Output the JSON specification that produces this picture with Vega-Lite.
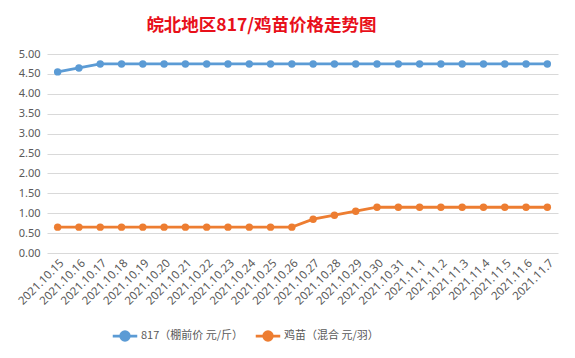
{
  "$schema": "https://vega.github.io/schema/vega-lite/v6.json",
  "width": 511,
  "height": 199,
  "autosize": {"type": "none"},
  "padding": {"left": 47, "top": 54, "right": 17, "bottom": 105},
  "background": "white",
  "title": {
    "text": "皖北地区817/鸡苗价格走势图",
    "color": "#e8101a",
    "fontSize": 17.5,
    "fontWeight": "bold",
    "font": "Noto Sans CJK SC",
    "anchor": "middle",
    "dx": -41,
    "offset": 14
  },
  "data": {
    "values": [
      {"date": "2021.10.15", "s": "817（棚前价 元/斤）", "v": 4.55},
      {"date": "2021.10.16", "s": "817（棚前价 元/斤）", "v": 4.65},
      {"date": "2021.10.17", "s": "817（棚前价 元/斤）", "v": 4.75},
      {"date": "2021.10.18", "s": "817（棚前价 元/斤）", "v": 4.75},
      {"date": "2021.10.19", "s": "817（棚前价 元/斤）", "v": 4.75},
      {"date": "2021.10.20", "s": "817（棚前价 元/斤）", "v": 4.75},
      {"date": "2021.10.21", "s": "817（棚前价 元/斤）", "v": 4.75},
      {"date": "2021.10.22", "s": "817（棚前价 元/斤）", "v": 4.75},
      {"date": "2021.10.23", "s": "817（棚前价 元/斤）", "v": 4.75},
      {"date": "2021.10.24", "s": "817（棚前价 元/斤）", "v": 4.75},
      {"date": "2021.10.25", "s": "817（棚前价 元/斤）", "v": 4.75},
      {"date": "2021.10.26", "s": "817（棚前价 元/斤）", "v": 4.75},
      {"date": "2021.10.27", "s": "817（棚前价 元/斤）", "v": 4.75},
      {"date": "2021.10.28", "s": "817（棚前价 元/斤）", "v": 4.75},
      {"date": "2021.10.29", "s": "817（棚前价 元/斤）", "v": 4.75},
      {"date": "2021.10.30", "s": "817（棚前价 元/斤）", "v": 4.75},
      {"date": "2021.10.31", "s": "817（棚前价 元/斤）", "v": 4.75},
      {"date": "2021.11.1", "s": "817（棚前价 元/斤）", "v": 4.75},
      {"date": "2021.11.2", "s": "817（棚前价 元/斤）", "v": 4.75},
      {"date": "2021.11.3", "s": "817（棚前价 元/斤）", "v": 4.75},
      {"date": "2021.11.4", "s": "817（棚前价 元/斤）", "v": 4.75},
      {"date": "2021.11.5", "s": "817（棚前价 元/斤）", "v": 4.75},
      {"date": "2021.11.6", "s": "817（棚前价 元/斤）", "v": 4.75},
      {"date": "2021.11.7", "s": "817（棚前价 元/斤）", "v": 4.75},
      {"date": "2021.10.15", "s": "鸡苗（混合 元/羽）", "v": 0.65},
      {"date": "2021.10.16", "s": "鸡苗（混合 元/羽）", "v": 0.65},
      {"date": "2021.10.17", "s": "鸡苗（混合 元/羽）", "v": 0.65},
      {"date": "2021.10.18", "s": "鸡苗（混合 元/羽）", "v": 0.65},
      {"date": "2021.10.19", "s": "鸡苗（混合 元/羽）", "v": 0.65},
      {"date": "2021.10.20", "s": "鸡苗（混合 元/羽）", "v": 0.65},
      {"date": "2021.10.21", "s": "鸡苗（混合 元/羽）", "v": 0.65},
      {"date": "2021.10.22", "s": "鸡苗（混合 元/羽）", "v": 0.65},
      {"date": "2021.10.23", "s": "鸡苗（混合 元/羽）", "v": 0.65},
      {"date": "2021.10.24", "s": "鸡苗（混合 元/羽）", "v": 0.65},
      {"date": "2021.10.25", "s": "鸡苗（混合 元/羽）", "v": 0.65},
      {"date": "2021.10.26", "s": "鸡苗（混合 元/羽）", "v": 0.65},
      {"date": "2021.10.27", "s": "鸡苗（混合 元/羽）", "v": 0.85},
      {"date": "2021.10.28", "s": "鸡苗（混合 元/羽）", "v": 0.95},
      {"date": "2021.10.29", "s": "鸡苗（混合 元/羽）", "v": 1.05},
      {"date": "2021.10.30", "s": "鸡苗（混合 元/羽）", "v": 1.15},
      {"date": "2021.10.31", "s": "鸡苗（混合 元/羽）", "v": 1.15},
      {"date": "2021.11.1", "s": "鸡苗（混合 元/羽）", "v": 1.15},
      {"date": "2021.11.2", "s": "鸡苗（混合 元/羽）", "v": 1.15},
      {"date": "2021.11.3", "s": "鸡苗（混合 元/羽）", "v": 1.15},
      {"date": "2021.11.4", "s": "鸡苗（混合 元/羽）", "v": 1.15},
      {"date": "2021.11.5", "s": "鸡苗（混合 元/羽）", "v": 1.15},
      {"date": "2021.11.6", "s": "鸡苗（混合 元/羽）", "v": 1.15},
      {"date": "2021.11.7", "s": "鸡苗（混合 元/羽）", "v": 1.15}
    ]
  },
  "mark": {
    "type": "line",
    "strokeWidth": 2.8,
    "point": {"filled": true, "size": 55}
  },
  "encoding": {
    "x": {
      "field": "date",
      "type": "ordinal",
      "sort": null,
      "scale": {"type": "point", "padding": 0.5},
      "axis": {
        "title": null,
        "labelAngle": -45,
        "labelFontSize": 11.5,
        "labelColor": "#595959",
        "labelFont": "Noto Sans",
        "domain": false,
        "ticks": false,
        "labelPadding": 4,
        "labelOverlap": false
      }
    },
    "y": {
      "field": "v",
      "type": "quantitative",
      "scale": {"domain": [0, 5]},
      "axis": {
        "title": null,
        "values": [0, 0.5, 1, 1.5, 2, 2.5, 3, 3.5, 4, 4.5, 5],
        "format": ".2f",
        "labelFontSize": 11,
        "labelColor": "#595959",
        "labelFont": "Noto Sans",
        "domain": false,
        "ticks": false,
        "labelPadding": 7,
        "gridColor": "#d9d9d9",
        "gridWidth": 1
      }
    },
    "color": {
      "field": "s",
      "type": "nominal",
      "sort": ["817（棚前价 元/斤）", "鸡苗（混合 元/羽）"],
      "scale": {"range": ["#5b9bd5", "#ed7d31"]},
      "legend": {
        "title": null,
        "orient": "none",
        "legendX": 64,
        "legendY": 268,
        "direction": "horizontal",
        "labelFontSize": 11,
        "labelColor": "#595959",
        "labelFont": "Noto Sans CJK SC",
        "symbolType": "M-1,0L1,0M-0.35,0A0.35,0.35 0 1,0 0.35,0A0.35,0.35 0 1,0 -0.35,0",
        "symbolSize": 600,
        "symbolStrokeWidth": 2.8,
        "labelOffset": 2,
        "columnPadding": 6
      }
    }
  },
  "config": {
    "view": {"stroke": null},
    "legend": {"symbolFillColor": null}
  }
}
